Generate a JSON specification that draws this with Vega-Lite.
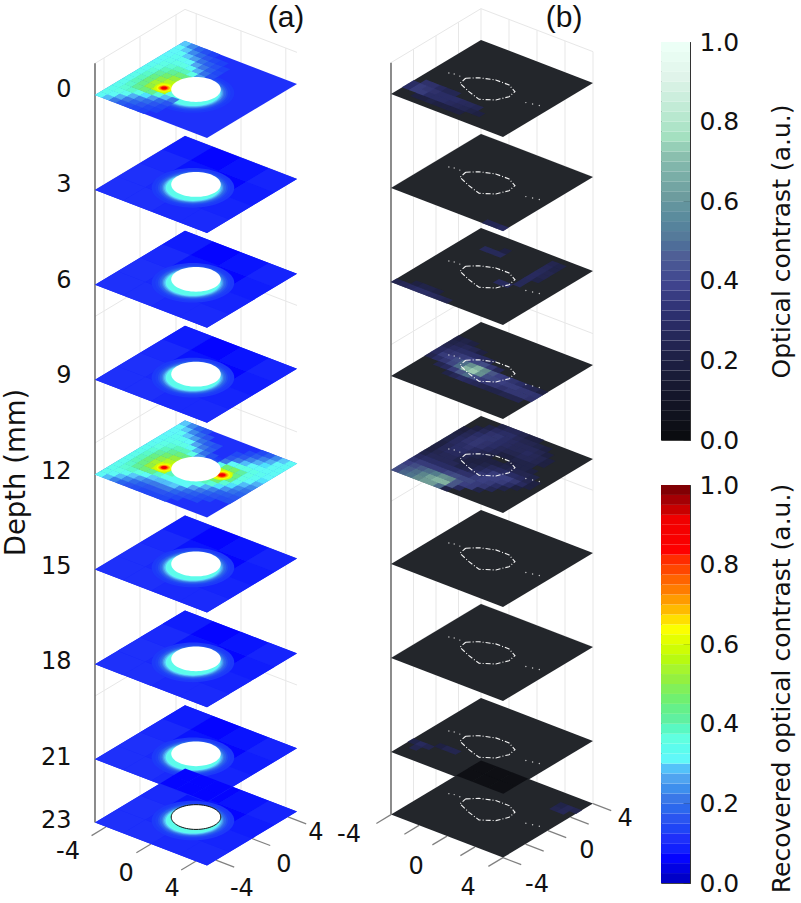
{"$schema":"https://vega.github.io/schema/vega-lite/v6.json","padding":{"left":2,"top":0,"right":0,"bottom":0},"background":"white","bounds":"flush","spacing":27,"resolve":{"scale":{"color":"independent"}},"config":{"font":"DejaVu Sans","view":{"stroke":null}},
"datasets":{"bar":[{"c":0},{"c":0.025},{"c":0.05},{"c":0.075},{"c":0.1},{"c":0.125},{"c":0.15},{"c":0.175},{"c":0.2},{"c":0.225},{"c":0.25},{"c":0.275},{"c":0.3},{"c":0.325},{"c":0.35},{"c":0.375},{"c":0.4},{"c":0.425},{"c":0.45},{"c":0.475},{"c":0.5},{"c":0.525},{"c":0.55},{"c":0.575},{"c":0.6},{"c":0.625},{"c":0.65},{"c":0.675},{"c":0.7},{"c":0.725},{"c":0.75},{"c":0.775},{"c":0.8},{"c":0.825},{"c":0.85},{"c":0.875},{"c":0.9},{"c":0.925},{"c":0.95},{"c":0.975}]},
"hconcat":[{"width":560,"height":903,
"data":{"values":[
{"k":"w","p":"a","i":"a-1","u":-4,"v":-4,"d":-1},{"k":"w","p":"a","i":"a-1","u":-4,"v":4,"d":-1},{"k":"w","p":"a","i":"a-1","u":4,"v":4,"d":-1},
{"k":"w","p":"a","i":"a3","u":-4,"v":-4,"d":3},{"k":"w","p":"a","i":"a3","u":-4,"v":4,"d":3},{"k":"w","p":"a","i":"a3","u":4,"v":4,"d":3},
{"k":"w","p":"a","i":"a7","u":-4,"v":-4,"d":7},{"k":"w","p":"a","i":"a7","u":-4,"v":4,"d":7},{"k":"w","p":"a","i":"a7","u":4,"v":4,"d":7},
{"k":"w","p":"a","i":"a11","u":-4,"v":-4,"d":11},{"k":"w","p":"a","i":"a11","u":-4,"v":4,"d":11},{"k":"w","p":"a","i":"a11","u":4,"v":4,"d":11},
{"k":"w","p":"a","i":"a15","u":-4,"v":-4,"d":15},{"k":"w","p":"a","i":"a15","u":-4,"v":4,"d":15},{"k":"w","p":"a","i":"a15","u":4,"v":4,"d":15},
{"k":"w","p":"a","i":"a19","u":-4,"v":-4,"d":19},{"k":"w","p":"a","i":"a19","u":-4,"v":4,"d":19},{"k":"w","p":"a","i":"a19","u":4,"v":4,"d":19},
{"k":"w","p":"b","i":"b-1","u":-4,"v":-4,"d":-1},{"k":"w","p":"b","i":"b-1","u":-4,"v":4,"d":-1},{"k":"w","p":"b","i":"b-1","u":4,"v":4,"d":-1},
{"k":"w","p":"b","i":"b3","u":-4,"v":-4,"d":3},{"k":"w","p":"b","i":"b3","u":-4,"v":4,"d":3},{"k":"w","p":"b","i":"b3","u":4,"v":4,"d":3},
{"k":"w","p":"b","i":"b8","u":-4,"v":-4,"d":8},{"k":"w","p":"b","i":"b8","u":-4,"v":4,"d":8},{"k":"w","p":"b","i":"b8","u":4,"v":4,"d":8},
{"k":"w","p":"b","i":"b13","u":-4,"v":-4,"d":13},{"k":"w","p":"b","i":"b13","u":-4,"v":4,"d":13},{"k":"w","p":"b","i":"b13","u":4,"v":4,"d":13},
{"k":"w","p":"b","i":"b18","u":-4,"v":-4,"d":18},{"k":"w","p":"b","i":"b18","u":-4,"v":4,"d":18},{"k":"w","p":"b","i":"b18","u":4,"v":4,"d":18},
{"k":"w","p":"a","i":"av1","u":-4,"v":-3.2,"d":-1},{"k":"w","p":"a","i":"av1","u":-4,"v":-3.2,"d":23},{"k":"w","p":"a","i":"av2","u":-4,"v":0,"d":-1},{"k":"w","p":"a","i":"av2","u":-4,"v":0,"d":23},{"k":"w","p":"a","i":"av3","u":-4,"v":3.2,"d":-1},{"k":"w","p":"a","i":"av3","u":-4,"v":3.2,"d":23},
{"k":"w","p":"a","i":"av4","u":-3.2,"v":4,"d":-1},{"k":"w","p":"a","i":"av4","u":-3.2,"v":4,"d":23},{"k":"w","p":"a","i":"av5","u":0,"v":4,"d":-1},{"k":"w","p":"a","i":"av5","u":0,"v":4,"d":23},{"k":"w","p":"a","i":"av6","u":3.2,"v":4,"d":-1},{"k":"w","p":"a","i":"av6","u":3.2,"v":4,"d":23},
{"k":"w","p":"b","i":"bv1","u":-4,"v":-2,"d":-1},{"k":"w","p":"b","i":"bv1","u":-4,"v":-2,"d":23},{"k":"w","p":"b","i":"bv2","u":-4,"v":0,"d":-1},{"k":"w","p":"b","i":"bv2","u":-4,"v":0,"d":23},{"k":"w","p":"b","i":"bv3","u":-4,"v":2,"d":-1},{"k":"w","p":"b","i":"bv3","u":-4,"v":2,"d":23},{"k":"w","p":"b","i":"bv4","u":-4,"v":4,"d":-1},{"k":"w","p":"b","i":"bv4","u":-4,"v":4,"d":23},
{"k":"w","p":"b","i":"bv5","u":-2,"v":4,"d":-1},{"k":"w","p":"b","i":"bv5","u":-2,"v":4,"d":23},{"k":"w","p":"b","i":"bv6","u":0,"v":4,"d":-1},{"k":"w","p":"b","i":"bv6","u":0,"v":4,"d":23},{"k":"w","p":"b","i":"bv7","u":2,"v":4,"d":-1},{"k":"w","p":"b","i":"bv7","u":2,"v":4,"d":23},{"k":"w","p":"b","i":"bv8","u":4,"v":4,"d":-1},{"k":"w","p":"b","i":"bv8","u":4,"v":4,"d":23},
{"k":"a","p":"a","i":"a","u":-4,"v":-4,"d":-1},{"k":"a","p":"a","i":"a","u":-4,"v":-4,"d":23},{"k":"a","p":"b","i":"b","u":-4,"v":-4,"d":-1},{"k":"a","p":"b","i":"b","u":-4,"v":-4,"d":23},
{"k":"t","p":"a","i":"t1","u":-3.2,"v":-4,"d":23},{"k":"t","p":"a","i":"t1","u":-3.2,"v":-5.3,"d":23},{"k":"t","p":"a","i":"t2","u":0,"v":-4,"d":23},{"k":"t","p":"a","i":"t2","u":0,"v":-5.3,"d":23},{"k":"t","p":"a","i":"t3","u":3.2,"v":-4,"d":23},{"k":"t","p":"a","i":"t3","u":3.2,"v":-5.3,"d":23},
{"k":"t","p":"a","i":"t4","u":4,"v":-3.2,"d":23},{"k":"t","p":"a","i":"t4","u":5.3,"v":-3.2,"d":23},{"k":"t","p":"a","i":"t5","u":4,"v":0,"d":23},{"k":"t","p":"a","i":"t5","u":5.3,"v":0,"d":23},{"k":"t","p":"a","i":"t6","u":4,"v":3.2,"d":23},{"k":"t","p":"a","i":"t6","u":5.3,"v":3.2,"d":23},
{"k":"t","p":"b","i":"t7","u":-4,"v":-4,"d":23},{"k":"t","p":"b","i":"t7","u":-4,"v":-5.3,"d":23},{"k":"t","p":"b","i":"t8","u":-2,"v":-4,"d":23},{"k":"t","p":"b","i":"t8","u":-2,"v":-5.3,"d":23},{"k":"t","p":"b","i":"t9","u":0,"v":-4,"d":23},{"k":"t","p":"b","i":"t9","u":0,"v":-5.3,"d":23},{"k":"t","p":"b","i":"t10","u":2,"v":-4,"d":23},{"k":"t","p":"b","i":"t10","u":2,"v":-5.3,"d":23},{"k":"t","p":"b","i":"t11","u":4,"v":-4,"d":23},{"k":"t","p":"b","i":"t11","u":4,"v":-5.3,"d":23},
{"k":"t","p":"b","i":"t12","u":4,"v":-4,"d":23},{"k":"t","p":"b","i":"t12","u":5.3,"v":-4,"d":23},{"k":"t","p":"b","i":"t13","u":4,"v":-2,"d":23},{"k":"t","p":"b","i":"t13","u":5.3,"v":-2,"d":23},{"k":"t","p":"b","i":"t14","u":4,"v":0,"d":23},{"k":"t","p":"b","i":"t14","u":5.3,"v":0,"d":23},{"k":"t","p":"b","i":"t15","u":4,"v":2,"d":23},{"k":"t","p":"b","i":"t15","u":5.3,"v":2,"d":23},{"k":"t","p":"b","i":"t16","u":4,"v":4,"d":23},{"k":"t","p":"b","i":"t16","u":5.3,"v":4,"d":23},
{"k":"b","d":0,"u":0,"v":0,"c":0.1,"l":8},{"k":"b","d":3,"u":0,"v":0,"c":0.08,"l":8},{"k":"b","d":6,"u":0,"v":0,"c":0.08,"l":8},{"k":"b","d":9,"u":0,"v":0,"c":0.08,"l":8},{"k":"b","d":12,"u":0,"v":0,"c":0.1,"l":8},{"k":"b","d":15,"u":0,"v":0,"c":0.08,"l":8},{"k":"b","d":18,"u":0,"v":0,"c":0.08,"l":8},{"k":"b","d":21,"u":0,"v":0,"c":0.08,"l":8},{"k":"b","d":23,"u":0,"v":0,"c":0.08,"l":8},
{"k":"B","p":"b","d":0,"u":0,"v":0,"l":8},{"k":"B","p":"b","d":3,"u":0,"v":0,"l":8},{"k":"B","p":"b","d":6,"u":0,"v":0,"l":8},{"k":"B","p":"b","d":9,"u":0,"v":0,"l":8},{"k":"B","p":"b","d":12,"u":0,"v":0,"l":8},{"k":"B","p":"b","d":15,"u":0,"v":0,"l":8},{"k":"B","p":"b","d":18,"u":0,"v":0,"l":8},{"k":"B","p":"b","d":21,"u":0,"v":0,"l":8},{"k":"B","p":"b","d":23,"u":0,"v":0,"l":8},
{"k":"g","u":-3,"v":-3,"c":0.1,"l":2},{"k":"g","u":-3,"v":-1,"c":0.1,"l":2},{"k":"g","u":-3,"v":1,"c":0.09,"l":2},{"k":"g","u":-3,"v":3,"c":0.07,"l":2},{"k":"g","u":-1,"v":-3,"c":0.1,"l":2},{"k":"g","u":-1,"v":-1,"c":0.09,"l":2},{"k":"g","u":-1,"v":1,"c":0.06,"l":2},{"k":"g","u":-1,"v":3,"c":0.05,"l":2},{"k":"g","u":1,"v":-3,"c":0.09,"l":2},{"k":"g","u":1,"v":-1,"c":0.08,"l":2},{"k":"g","u":1,"v":1,"c":0.05,"l":2},{"k":"g","u":1,"v":3,"c":0.06,"l":2},{"k":"g","u":3,"v":-3,"c":0.09,"l":2},{"k":"g","u":3,"v":-1,"c":0.08,"l":2},{"k":"g","u":3,"v":1,"c":0.07,"l":2},{"k":"g","u":3,"v":3,"c":0.08,"l":2},
{"k":"r","u":0.12,"v":-0.42,"r":2.3,"c":0.11},{"k":"r","u":0.12,"v":-0.42,"r":2.1,"c":0.12},{"k":"r","u":0.12,"v":-0.42,"r":1.95,"c":0.14},{"k":"r","u":0.12,"v":-0.42,"r":1.85,"c":0.17},{"k":"r","u":0.12,"v":-0.42,"r":1.75,"c":0.2},{"k":"r","u":0.12,"v":-0.42,"r":1.68,"c":0.24},{"k":"r","u":0.12,"v":-0.42,"r":1.6,"c":0.28},{"k":"r","u":0.12,"v":-0.42,"r":1.52,"c":0.3},{"k":"r","u":0.12,"v":-0.42,"r":1.45,"c":0.33},
{"k":"c","d":0,"u":-3.75,"v":-3.75,"c":0.31},{"k":"c","d":0,"u":-3.25,"v":-3.75,"c":0.27},{"k":"c","d":0,"u":-2.75,"v":-3.75,"c":0.2},{"k":"c","d":0,"u":-2.25,"v":-3.75,"c":0.16},{"k":"c","d":0,"u":-1.75,"v":-3.75,"c":0.14},{"k":"c","d":0,"u":-1.25,"v":-3.75,"c":0.13},{"k":"c","d":0,"u":-0.75,"v":-3.75,"c":0.12},
{"k":"c","d":0,"u":-3.75,"v":-3.25,"c":0.33},{"k":"c","d":0,"u":-3.25,"v":-3.25,"c":0.31},{"k":"c","d":0,"u":-2.75,"v":-3.25,"c":0.26},{"k":"c","d":0,"u":-2.25,"v":-3.25,"c":0.2},{"k":"c","d":0,"u":-1.75,"v":-3.25,"c":0.17},{"k":"c","d":0,"u":-1.25,"v":-3.25,"c":0.15},{"k":"c","d":0,"u":-0.75,"v":-3.25,"c":0.13},{"k":"c","d":0,"u":-0.25,"v":-3.25,"c":0.12},
{"k":"c","d":0,"u":-3.75,"v":-2.75,"c":0.33},{"k":"c","d":0,"u":-3.25,"v":-2.75,"c":0.34},{"k":"c","d":0,"u":-2.75,"v":-2.75,"c":0.32},{"k":"c","d":0,"u":-2.25,"v":-2.75,"c":0.26},{"k":"c","d":0,"u":-1.75,"v":-2.75,"c":0.21},{"k":"c","d":0,"u":-1.25,"v":-2.75,"c":0.18},{"k":"c","d":0,"u":-0.75,"v":-2.75,"c":0.15},{"k":"c","d":0,"u":-0.25,"v":-2.75,"c":0.13},
{"k":"c","d":0,"u":-3.75,"v":-2.25,"c":0.33},{"k":"c","d":0,"u":-3.25,"v":-2.25,"c":0.36},{"k":"c","d":0,"u":-2.75,"v":-2.25,"c":0.37},{"k":"c","d":0,"u":-2.25,"v":-2.25,"c":0.34},{"k":"c","d":0,"u":-1.75,"v":-2.25,"c":0.29},{"k":"c","d":0,"u":-1.25,"v":-2.25,"c":0.24},{"k":"c","d":0,"u":-0.75,"v":-2.25,"c":0.18},{"k":"c","d":0,"u":-0.25,"v":-2.25,"c":0.15},
{"k":"c","d":0,"u":-3.75,"v":-1.75,"c":0.33},{"k":"c","d":0,"u":-3.25,"v":-1.75,"c":0.37},{"k":"c","d":0,"u":-2.75,"v":-1.75,"c":0.41},{"k":"c","d":0,"u":-2.25,"v":-1.75,"c":0.44},{"k":"c","d":0,"u":-1.75,"v":-1.75,"c":0.42},{"k":"c","d":0,"u":-1.25,"v":-1.75,"c":0.36},{"k":"c","d":0,"u":-0.75,"v":-1.75,"c":0.27},{"k":"c","d":0,"u":-0.25,"v":-1.75,"c":0.2},
{"k":"c","d":0,"u":-3.75,"v":-1.25,"c":0.33},{"k":"c","d":0,"u":-3.25,"v":-1.25,"c":0.38},{"k":"c","d":0,"u":-2.75,"v":-1.25,"c":0.43},{"k":"c","d":0,"u":-2.25,"v":-1.25,"c":0.5},{"k":"c","d":0,"u":-1.75,"v":-1.25,"c":0.56},{"k":"c","d":0,"u":-1.25,"v":-1.25,"c":0.55},{"k":"c","d":0,"u":-0.75,"v":-1.25,"c":0.35},
{"k":"c","d":0,"u":-3.75,"v":-0.75,"c":0.33},{"k":"c","d":0,"u":-3.25,"v":-0.75,"c":0.38},{"k":"c","d":0,"u":-2.75,"v":-0.75,"c":0.44},{"k":"c","d":0,"u":-2.25,"v":-0.75,"c":0.52},{"k":"c","d":0,"u":-1.75,"v":-0.75,"c":0.58},{"k":"c","d":0,"u":-1.25,"v":-0.75,"c":0.58},{"k":"c","d":0,"u":-0.75,"v":-0.75,"c":0.45},
{"k":"c","d":0,"u":-3.75,"v":-0.25,"c":0.33},{"k":"c","d":0,"u":-3.25,"v":-0.25,"c":0.37},{"k":"c","d":0,"u":-2.75,"v":-0.25,"c":0.43},{"k":"c","d":0,"u":-2.25,"v":-0.25,"c":0.49},{"k":"c","d":0,"u":-1.75,"v":-0.25,"c":0.54},{"k":"c","d":0,"u":-1.25,"v":-0.25,"c":0.56},
{"k":"c","d":0,"u":-3.75,"v":0.25,"c":0.32},{"k":"c","d":0,"u":-3.25,"v":0.25,"c":0.36},{"k":"c","d":0,"u":-2.75,"v":0.25,"c":0.4},{"k":"c","d":0,"u":-2.25,"v":0.25,"c":0.45},{"k":"c","d":0,"u":-1.75,"v":0.25,"c":0.5},{"k":"c","d":0,"u":-1.25,"v":0.25,"c":0.52},
{"k":"c","d":0,"u":-3.75,"v":0.75,"c":0.32},{"k":"c","d":0,"u":-3.25,"v":0.75,"c":0.35},{"k":"c","d":0,"u":-2.75,"v":0.75,"c":0.38},{"k":"c","d":0,"u":-2.25,"v":0.75,"c":0.41},{"k":"c","d":0,"u":-1.75,"v":0.75,"c":0.44},{"k":"c","d":0,"u":-1.25,"v":0.75,"c":0.43},
{"k":"c","d":0,"u":-3.75,"v":1.25,"c":0.31},{"k":"c","d":0,"u":-3.25,"v":1.25,"c":0.34},{"k":"c","d":0,"u":-2.75,"v":1.25,"c":0.36},{"k":"c","d":0,"u":-2.25,"v":1.25,"c":0.38},{"k":"c","d":0,"u":-1.75,"v":1.25,"c":0.38},{"k":"c","d":0,"u":-1.25,"v":1.25,"c":0.34},{"k":"c","d":0,"u":-0.75,"v":1.25,"c":0.24},
{"k":"c","d":0,"u":-3.75,"v":1.75,"c":0.31},{"k":"c","d":0,"u":-3.25,"v":1.75,"c":0.33},{"k":"c","d":0,"u":-2.75,"v":1.75,"c":0.34},{"k":"c","d":0,"u":-2.25,"v":1.75,"c":0.34},{"k":"c","d":0,"u":-1.75,"v":1.75,"c":0.31},{"k":"c","d":0,"u":-1.25,"v":1.75,"c":0.26},{"k":"c","d":0,"u":-0.75,"v":1.75,"c":0.19},{"k":"c","d":0,"u":-0.25,"v":1.75,"c":0.14},
{"k":"c","d":0,"u":-3.75,"v":2.25,"c":0.3},{"k":"c","d":0,"u":-3.25,"v":2.25,"c":0.32},{"k":"c","d":0,"u":-2.75,"v":2.25,"c":0.32},{"k":"c","d":0,"u":-2.25,"v":2.25,"c":0.3},{"k":"c","d":0,"u":-1.75,"v":2.25,"c":0.25},{"k":"c","d":0,"u":-1.25,"v":2.25,"c":0.2},{"k":"c","d":0,"u":-0.75,"v":2.25,"c":0.16},{"k":"c","d":0,"u":-0.25,"v":2.25,"c":0.13},
{"k":"c","d":0,"u":-3.75,"v":2.75,"c":0.3},{"k":"c","d":0,"u":-3.25,"v":2.75,"c":0.31},{"k":"c","d":0,"u":-2.75,"v":2.75,"c":0.28},{"k":"c","d":0,"u":-2.25,"v":2.75,"c":0.24},{"k":"c","d":0,"u":-1.75,"v":2.75,"c":0.19},{"k":"c","d":0,"u":-1.25,"v":2.75,"c":0.16},{"k":"c","d":0,"u":-0.75,"v":2.75,"c":0.14},{"k":"c","d":0,"u":-0.25,"v":2.75,"c":0.12},
{"k":"c","d":0,"u":-3.75,"v":3.25,"c":0.3},{"k":"c","d":0,"u":-3.25,"v":3.25,"c":0.28},{"k":"c","d":0,"u":-2.75,"v":3.25,"c":0.22},{"k":"c","d":0,"u":-2.25,"v":3.25,"c":0.18},{"k":"c","d":0,"u":-1.75,"v":3.25,"c":0.15},{"k":"c","d":0,"u":-1.25,"v":3.25,"c":0.13},{"k":"c","d":0,"u":-0.75,"v":3.25,"c":0.12},
{"k":"c","d":0,"u":-3.75,"v":3.75,"c":0.28},{"k":"c","d":0,"u":-3.25,"v":3.75,"c":0.22},{"k":"c","d":0,"u":-2.75,"v":3.75,"c":0.17},{"k":"c","d":0,"u":-2.25,"v":3.75,"c":0.14},{"k":"c","d":0,"u":-1.75,"v":3.75,"c":0.12},
{"k":"c","d":12,"u":-3.75,"v":-3.75,"c":0.31},{"k":"c","d":12,"u":-3.25,"v":-3.75,"c":0.27},{"k":"c","d":12,"u":-2.75,"v":-3.75,"c":0.21},{"k":"c","d":12,"u":-2.25,"v":-3.75,"c":0.17},{"k":"c","d":12,"u":-1.75,"v":-3.75,"c":0.15},{"k":"c","d":12,"u":-1.25,"v":-3.75,"c":0.14},{"k":"c","d":12,"u":-0.75,"v":-3.75,"c":0.13},{"k":"c","d":12,"u":-0.25,"v":-3.75,"c":0.13},{"k":"c","d":12,"u":0.25,"v":-3.75,"c":0.13},{"k":"c","d":12,"u":0.75,"v":-3.75,"c":0.13},
{"k":"c","d":12,"u":-3.75,"v":-3.25,"c":0.33},{"k":"c","d":12,"u":-3.25,"v":-3.25,"c":0.31},{"k":"c","d":12,"u":-2.75,"v":-3.25,"c":0.27},{"k":"c","d":12,"u":-2.25,"v":-3.25,"c":0.22},{"k":"c","d":12,"u":-1.75,"v":-3.25,"c":0.18},{"k":"c","d":12,"u":-1.25,"v":-3.25,"c":0.16},{"k":"c","d":12,"u":-0.75,"v":-3.25,"c":0.15},{"k":"c","d":12,"u":-0.25,"v":-3.25,"c":0.15},{"k":"c","d":12,"u":0.25,"v":-3.25,"c":0.15},{"k":"c","d":12,"u":0.75,"v":-3.25,"c":0.14},{"k":"c","d":12,"u":1.25,"v":-3.25,"c":0.13},
{"k":"c","d":12,"u":-3.75,"v":-2.75,"c":0.33},{"k":"c","d":12,"u":-3.25,"v":-2.75,"c":0.34},{"k":"c","d":12,"u":-2.75,"v":-2.75,"c":0.32},{"k":"c","d":12,"u":-2.25,"v":-2.75,"c":0.28},{"k":"c","d":12,"u":-1.75,"v":-2.75,"c":0.24},{"k":"c","d":12,"u":-1.25,"v":-2.75,"c":0.21},{"k":"c","d":12,"u":-0.75,"v":-2.75,"c":0.2},{"k":"c","d":12,"u":-0.25,"v":-2.75,"c":0.2},{"k":"c","d":12,"u":0.25,"v":-2.75,"c":0.2},{"k":"c","d":12,"u":0.75,"v":-2.75,"c":0.17},{"k":"c","d":12,"u":1.25,"v":-2.75,"c":0.15},{"k":"c","d":12,"u":1.75,"v":-2.75,"c":0.14},{"k":"c","d":12,"u":2.25,"v":-2.75,"c":0.13},
{"k":"c","d":12,"u":-3.75,"v":-2.25,"c":0.33},{"k":"c","d":12,"u":-3.25,"v":-2.25,"c":0.36},{"k":"c","d":12,"u":-2.75,"v":-2.25,"c":0.37},{"k":"c","d":12,"u":-2.25,"v":-2.25,"c":0.35},{"k":"c","d":12,"u":-1.75,"v":-2.25,"c":0.31},{"k":"c","d":12,"u":-1.25,"v":-2.25,"c":0.28},{"k":"c","d":12,"u":-0.75,"v":-2.25,"c":0.27},{"k":"c","d":12,"u":-0.25,"v":-2.25,"c":0.27},{"k":"c","d":12,"u":0.25,"v":-2.25,"c":0.28},{"k":"c","d":12,"u":0.75,"v":-2.25,"c":0.22},{"k":"c","d":12,"u":1.25,"v":-2.25,"c":0.18},{"k":"c","d":12,"u":1.75,"v":-2.25,"c":0.16},{"k":"c","d":12,"u":2.25,"v":-2.25,"c":0.14},{"k":"c","d":12,"u":2.75,"v":-2.25,"c":0.13},
{"k":"c","d":12,"u":-3.75,"v":-1.75,"c":0.33},{"k":"c","d":12,"u":-3.25,"v":-1.75,"c":0.37},{"k":"c","d":12,"u":-2.75,"v":-1.75,"c":0.41},{"k":"c","d":12,"u":-2.25,"v":-1.75,"c":0.44},{"k":"c","d":12,"u":-1.75,"v":-1.75,"c":0.42},{"k":"c","d":12,"u":-1.25,"v":-1.75,"c":0.37},{"k":"c","d":12,"u":-0.75,"v":-1.75,"c":0.33},{"k":"c","d":12,"u":-0.25,"v":-1.75,"c":0.31},{"k":"c","d":12,"u":0.25,"v":-1.75,"c":0.31},{"k":"c","d":12,"u":0.75,"v":-1.75,"c":0.3},{"k":"c","d":12,"u":1.25,"v":-1.75,"c":0.25},{"k":"c","d":12,"u":1.75,"v":-1.75,"c":0.2},{"k":"c","d":12,"u":2.25,"v":-1.75,"c":0.17},{"k":"c","d":12,"u":2.75,"v":-1.75,"c":0.15},{"k":"c","d":12,"u":3.25,"v":-1.75,"c":0.14},{"k":"c","d":12,"u":3.75,"v":-1.75,"c":0.14},
{"k":"c","d":12,"u":-3.75,"v":-1.25,"c":0.33},{"k":"c","d":12,"u":-3.25,"v":-1.25,"c":0.38},{"k":"c","d":12,"u":-2.75,"v":-1.25,"c":0.43},{"k":"c","d":12,"u":-2.25,"v":-1.25,"c":0.5},{"k":"c","d":12,"u":-1.75,"v":-1.25,"c":0.56},{"k":"c","d":12,"u":-1.25,"v":-1.25,"c":0.55},{"k":"c","d":12,"u":-0.75,"v":-1.25,"c":0.38},{"k":"c","d":12,"u":0.75,"v":-1.25,"c":0.33},{"k":"c","d":12,"u":1.25,"v":-1.25,"c":0.32},{"k":"c","d":12,"u":1.75,"v":-1.25,"c":0.26},{"k":"c","d":12,"u":2.25,"v":-1.25,"c":0.21},{"k":"c","d":12,"u":2.75,"v":-1.25,"c":0.17},{"k":"c","d":12,"u":3.25,"v":-1.25,"c":0.16},{"k":"c","d":12,"u":3.75,"v":-1.25,"c":0.15},
{"k":"c","d":12,"u":-3.75,"v":-0.75,"c":0.33},{"k":"c","d":12,"u":-3.25,"v":-0.75,"c":0.38},{"k":"c","d":12,"u":-2.75,"v":-0.75,"c":0.44},{"k":"c","d":12,"u":-2.25,"v":-0.75,"c":0.52},{"k":"c","d":12,"u":-1.75,"v":-0.75,"c":0.58},{"k":"c","d":12,"u":-1.25,"v":-0.75,"c":0.58},{"k":"c","d":12,"u":1.25,"v":-0.75,"c":0.38},{"k":"c","d":12,"u":1.75,"v":-0.75,"c":0.36},{"k":"c","d":12,"u":2.25,"v":-0.75,"c":0.29},{"k":"c","d":12,"u":2.75,"v":-0.75,"c":0.23},{"k":"c","d":12,"u":3.25,"v":-0.75,"c":0.19},{"k":"c","d":12,"u":3.75,"v":-0.75,"c":0.17},
{"k":"c","d":12,"u":-3.75,"v":-0.25,"c":0.33},{"k":"c","d":12,"u":-3.25,"v":-0.25,"c":0.37},{"k":"c","d":12,"u":-2.75,"v":-0.25,"c":0.43},{"k":"c","d":12,"u":-2.25,"v":-0.25,"c":0.49},{"k":"c","d":12,"u":-1.75,"v":-0.25,"c":0.54},{"k":"c","d":12,"u":-1.25,"v":-0.25,"c":0.56},{"k":"c","d":12,"u":1.25,"v":-0.25,"c":0.46},{"k":"c","d":12,"u":1.75,"v":-0.25,"c":0.45},{"k":"c","d":12,"u":2.25,"v":-0.25,"c":0.36},{"k":"c","d":12,"u":2.75,"v":-0.25,"c":0.29},{"k":"c","d":12,"u":3.25,"v":-0.25,"c":0.22},{"k":"c","d":12,"u":3.75,"v":-0.25,"c":0.19},
{"k":"c","d":12,"u":-3.75,"v":0.25,"c":0.32},{"k":"c","d":12,"u":-3.25,"v":0.25,"c":0.36},{"k":"c","d":12,"u":-2.75,"v":0.25,"c":0.4},{"k":"c","d":12,"u":-2.25,"v":0.25,"c":0.45},{"k":"c","d":12,"u":-1.75,"v":0.25,"c":0.5},{"k":"c","d":12,"u":-1.25,"v":0.25,"c":0.52},{"k":"c","d":12,"u":1.25,"v":0.25,"c":0.56},{"k":"c","d":12,"u":1.75,"v":0.25,"c":0.55},{"k":"c","d":12,"u":2.25,"v":0.25,"c":0.43},{"k":"c","d":12,"u":2.75,"v":0.25,"c":0.33},{"k":"c","d":12,"u":3.25,"v":0.25,"c":0.27},{"k":"c","d":12,"u":3.75,"v":0.25,"c":0.22},
{"k":"c","d":12,"u":-3.75,"v":0.75,"c":0.32},{"k":"c","d":12,"u":-3.25,"v":0.75,"c":0.35},{"k":"c","d":12,"u":-2.75,"v":0.75,"c":0.38},{"k":"c","d":12,"u":-2.25,"v":0.75,"c":0.41},{"k":"c","d":12,"u":-1.75,"v":0.75,"c":0.44},{"k":"c","d":12,"u":-1.25,"v":0.75,"c":0.43},{"k":"c","d":12,"u":1.25,"v":0.75,"c":0.55},{"k":"c","d":12,"u":1.75,"v":0.75,"c":0.52},{"k":"c","d":12,"u":2.25,"v":0.75,"c":0.43},{"k":"c","d":12,"u":2.75,"v":0.75,"c":0.35},{"k":"c","d":12,"u":3.25,"v":0.75,"c":0.3},{"k":"c","d":12,"u":3.75,"v":0.75,"c":0.26},
{"k":"c","d":12,"u":-3.75,"v":1.25,"c":0.31},{"k":"c","d":12,"u":-3.25,"v":1.25,"c":0.34},{"k":"c","d":12,"u":-2.75,"v":1.25,"c":0.36},{"k":"c","d":12,"u":-2.25,"v":1.25,"c":0.38},{"k":"c","d":12,"u":-1.75,"v":1.25,"c":0.38},{"k":"c","d":12,"u":-1.25,"v":1.25,"c":0.34},{"k":"c","d":12,"u":-0.75,"v":1.25,"c":0.24},{"k":"c","d":12,"u":0.75,"v":1.25,"c":0.32},{"k":"c","d":12,"u":1.25,"v":1.25,"c":0.44},{"k":"c","d":12,"u":1.75,"v":1.25,"c":0.46},{"k":"c","d":12,"u":2.25,"v":1.25,"c":0.4},{"k":"c","d":12,"u":2.75,"v":1.25,"c":0.35},{"k":"c","d":12,"u":3.25,"v":1.25,"c":0.32},{"k":"c","d":12,"u":3.75,"v":1.25,"c":0.29},
{"k":"c","d":12,"u":-3.75,"v":1.75,"c":0.31},{"k":"c","d":12,"u":-3.25,"v":1.75,"c":0.33},{"k":"c","d":12,"u":-2.75,"v":1.75,"c":0.34},{"k":"c","d":12,"u":-2.25,"v":1.75,"c":0.34},{"k":"c","d":12,"u":-1.75,"v":1.75,"c":0.31},{"k":"c","d":12,"u":-1.25,"v":1.75,"c":0.26},{"k":"c","d":12,"u":-0.75,"v":1.75,"c":0.19},{"k":"c","d":12,"u":-0.25,"v":1.75,"c":0.14},{"k":"c","d":12,"u":0.75,"v":1.75,"c":0.2},{"k":"c","d":12,"u":1.25,"v":1.75,"c":0.3},{"k":"c","d":12,"u":1.75,"v":1.75,"c":0.35},{"k":"c","d":12,"u":2.25,"v":1.75,"c":0.35},{"k":"c","d":12,"u":2.75,"v":1.75,"c":0.34},{"k":"c","d":12,"u":3.25,"v":1.75,"c":0.32},{"k":"c","d":12,"u":3.75,"v":1.75,"c":0.3},
{"k":"c","d":12,"u":-3.75,"v":2.25,"c":0.3},{"k":"c","d":12,"u":-3.25,"v":2.25,"c":0.32},{"k":"c","d":12,"u":-2.75,"v":2.25,"c":0.32},{"k":"c","d":12,"u":-2.25,"v":2.25,"c":0.3},{"k":"c","d":12,"u":-1.75,"v":2.25,"c":0.25},{"k":"c","d":12,"u":-1.25,"v":2.25,"c":0.2},{"k":"c","d":12,"u":-0.75,"v":2.25,"c":0.16},{"k":"c","d":12,"u":0.75,"v":2.25,"c":0.15},{"k":"c","d":12,"u":1.25,"v":2.25,"c":0.2},{"k":"c","d":12,"u":1.75,"v":2.25,"c":0.27},{"k":"c","d":12,"u":2.25,"v":2.25,"c":0.3},{"k":"c","d":12,"u":2.75,"v":2.25,"c":0.31},{"k":"c","d":12,"u":3.25,"v":2.25,"c":0.31},{"k":"c","d":12,"u":3.75,"v":2.25,"c":0.31},
{"k":"c","d":12,"u":-3.75,"v":2.75,"c":0.3},{"k":"c","d":12,"u":-3.25,"v":2.75,"c":0.31},{"k":"c","d":12,"u":-2.75,"v":2.75,"c":0.28},{"k":"c","d":12,"u":-2.25,"v":2.75,"c":0.24},{"k":"c","d":12,"u":-1.75,"v":2.75,"c":0.19},{"k":"c","d":12,"u":-1.25,"v":2.75,"c":0.16},{"k":"c","d":12,"u":-0.75,"v":2.75,"c":0.14},{"k":"c","d":12,"u":0.75,"v":2.75,"c":0.13},{"k":"c","d":12,"u":1.25,"v":2.75,"c":0.15},{"k":"c","d":12,"u":1.75,"v":2.75,"c":0.21},{"k":"c","d":12,"u":2.25,"v":2.75,"c":0.26},{"k":"c","d":12,"u":2.75,"v":2.75,"c":0.29},{"k":"c","d":12,"u":3.25,"v":2.75,"c":0.31},{"k":"c","d":12,"u":3.75,"v":2.75,"c":0.31},
{"k":"c","d":12,"u":-3.75,"v":3.25,"c":0.3},{"k":"c","d":12,"u":-3.25,"v":3.25,"c":0.28},{"k":"c","d":12,"u":-2.75,"v":3.25,"c":0.22},{"k":"c","d":12,"u":-2.25,"v":3.25,"c":0.18},{"k":"c","d":12,"u":-1.75,"v":3.25,"c":0.15},{"k":"c","d":12,"u":1.25,"v":3.25,"c":0.13},{"k":"c","d":12,"u":1.75,"v":3.25,"c":0.16},{"k":"c","d":12,"u":2.25,"v":3.25,"c":0.21},{"k":"c","d":12,"u":2.75,"v":3.25,"c":0.26},{"k":"c","d":12,"u":3.25,"v":3.25,"c":0.3},{"k":"c","d":12,"u":3.75,"v":3.25,"c":0.31},
{"k":"c","d":12,"u":-3.75,"v":3.75,"c":0.28},{"k":"c","d":12,"u":-3.25,"v":3.75,"c":0.22},{"k":"c","d":12,"u":-2.75,"v":3.75,"c":0.17},{"k":"c","d":12,"u":-2.25,"v":3.75,"c":0.14},{"k":"c","d":12,"u":1.75,"v":3.75,"c":0.13},{"k":"c","d":12,"u":2.25,"v":3.75,"c":0.16},{"k":"c","d":12,"u":2.75,"v":3.75,"c":0.22},{"k":"c","d":12,"u":3.25,"v":3.75,"c":0.28},{"k":"c","d":12,"u":3.75,"v":3.75,"c":0.31},
{"k":"h","d":0,"u":-1.5,"v":-0.97,"r":0.55,"c":0.58},{"k":"h","d":0,"u":-1.5,"v":-0.97,"r":0.42,"c":0.62},{"k":"h","d":0,"u":-1.5,"v":-0.97,"r":0.33,"c":0.68},{"k":"h","d":0,"u":-1.5,"v":-0.97,"r":0.25,"c":0.75},{"k":"h","d":0,"u":-1.5,"v":-0.97,"r":0.18,"c":0.82},{"k":"h","d":0,"u":-1.5,"v":-0.97,"r":0.12,"c":0.9},
{"k":"h","d":12,"u":-1.5,"v":-0.97,"r":0.55,"c":0.58},{"k":"h","d":12,"u":-1.5,"v":-0.97,"r":0.42,"c":0.62},{"k":"h","d":12,"u":-1.5,"v":-0.97,"r":0.33,"c":0.68},{"k":"h","d":12,"u":-1.5,"v":-0.97,"r":0.25,"c":0.75},{"k":"h","d":12,"u":-1.5,"v":-0.97,"r":0.18,"c":0.82},{"k":"h","d":12,"u":-1.5,"v":-0.97,"r":0.12,"c":0.9},
{"k":"h","d":12,"u":1.57,"v":0.36,"r":0.6,"c":0.58},{"k":"h","d":12,"u":1.57,"v":0.36,"r":0.46,"c":0.62},{"k":"h","d":12,"u":1.57,"v":0.36,"r":0.36,"c":0.68},{"k":"h","d":12,"u":1.57,"v":0.36,"r":0.27,"c":0.75},{"k":"h","d":12,"u":1.57,"v":0.36,"r":0.2,"c":0.82},{"k":"h","d":12,"u":1.57,"v":0.36,"r":0.13,"c":0.9},
{"k":"x","u":0,"v":0,"r":1.38,"c":0},
{"k":"c","d":23,"u":-3.44,"v":2.35,"c":0.05,"l":1.13},{"k":"c","d":23,"u":-2.31,"v":2.35,"c":0.05,"l":1.13},{"k":"c","d":23,"u":-1.19,"v":2.35,"c":0.05,"l":1.13},{"k":"c","d":23,"u":-3.44,"v":3.45,"c":0.05,"l":1.13},{"k":"c","d":23,"u":-2.31,"v":3.45,"c":0.05,"l":1.13},{"k":"c","d":23,"u":-1.19,"v":3.45,"c":0.05,"l":1.13},
{"k":"q","d":0,"u":-2.75,"v":-3.25,"c":0.2},{"k":"q","d":0,"u":-2.25,"v":-3.25,"c":0.2},{"k":"q","d":0,"u":-1.75,"v":-3.25,"c":0.22},{"k":"q","d":0,"u":-1.25,"v":-3.25,"c":0.2},{"k":"q","d":0,"u":-0.75,"v":-3.25,"c":0.2},{"k":"q","d":0,"u":-0.25,"v":-3.25,"c":0.2},{"k":"q","d":0,"u":0.25,"v":-3.25,"c":0.2},
{"k":"q","d":0,"u":-3.75,"v":-2.75,"c":0.3},{"k":"q","d":0,"u":-3.25,"v":-2.75,"c":0.36},{"k":"q","d":0,"u":-2.75,"v":-2.75,"c":0.36},{"k":"q","d":0,"u":-2.25,"v":-2.75,"c":0.3},{"k":"q","d":0,"u":-1.75,"v":-2.75,"c":0.3},{"k":"q","d":0,"u":-1.25,"v":-2.75,"c":0.3},{"k":"q","d":0,"u":-0.75,"v":-2.75,"c":0.28},{"k":"q","d":0,"u":-0.25,"v":-2.75,"c":0.26},{"k":"q","d":0,"u":0.25,"v":-2.75,"c":0.25},{"k":"q","d":0,"u":0.75,"v":-2.75,"c":0.22},{"k":"q","d":0,"u":1.25,"v":-2.75,"c":0.2},
{"k":"q","d":0,"u":-3.75,"v":-2.25,"c":0.3},{"k":"q","d":0,"u":-3.25,"v":-2.25,"c":0.36},{"k":"q","d":0,"u":-2.75,"v":-2.25,"c":0.34},{"k":"q","d":0,"u":-2.25,"v":-2.25,"c":0.32},{"k":"q","d":0,"u":-1.75,"v":-2.25,"c":0.3},{"k":"q","d":0,"u":-1.25,"v":-2.25,"c":0.3},{"k":"q","d":0,"u":-0.75,"v":-2.25,"c":0.3},{"k":"q","d":0,"u":-0.25,"v":-2.25,"c":0.28},{"k":"q","d":0,"u":0.25,"v":-2.25,"c":0.27},{"k":"q","d":0,"u":0.75,"v":-2.25,"c":0.25},
{"k":"q","d":0,"u":-3.25,"v":-1.75,"c":0.32},{"k":"q","d":0,"u":-2.75,"v":-1.75,"c":0.32},{"k":"q","d":0,"u":-2.25,"v":-1.75,"c":0.28},{"k":"q","d":0,"u":-1.75,"v":-1.75,"c":0.25},{"k":"q","d":0,"u":-1.25,"v":-1.75,"c":0.25},
{"k":"q","d":3,"u":2.75,"v":-3.75,"c":0.25},{"k":"q","d":3,"u":3.25,"v":-3.75,"c":0.25},{"k":"q","d":3,"u":3.75,"v":-3.75,"c":0.28},
{"k":"q","d":6,"u":-3.75,"v":-3.75,"c":0.24},{"k":"q","d":6,"u":-3.25,"v":-3.75,"c":0.26},{"k":"q","d":6,"u":-2.75,"v":-3.75,"c":0.28},{"k":"q","d":6,"u":-2.25,"v":-3.75,"c":0.3},{"k":"q","d":6,"u":-1.75,"v":-3.75,"c":0.3},{"k":"q","d":6,"u":-1.25,"v":-3.75,"c":0.28},{"k":"q","d":6,"u":-0.75,"v":-3.75,"c":0.26},{"k":"q","d":6,"u":-0.25,"v":-3.75,"c":0.24},{"k":"q","d":6,"u":-2.75,"v":-3.25,"c":0.2},{"k":"q","d":6,"u":-2.25,"v":-3.25,"c":0.22},{"k":"q","d":6,"u":-1.75,"v":-3.25,"c":0.22},{"k":"q","d":6,"u":-1.25,"v":-3.25,"c":0.2},
{"k":"q","d":6,"u":1.75,"v":0.25,"c":0.27},{"k":"q","d":6,"u":1.75,"v":0.75,"c":0.27},{"k":"q","d":6,"u":1.75,"v":1.25,"c":0.28},{"k":"q","d":6,"u":1.75,"v":1.75,"c":0.28},{"k":"q","d":6,"u":1.75,"v":2.25,"c":0.27},{"k":"q","d":6,"u":1.75,"v":2.75,"c":0.26},{"k":"q","d":6,"u":1.75,"v":3.25,"c":0.24},{"k":"q","d":6,"u":2.25,"v":1.25,"c":0.22},{"k":"q","d":6,"u":2.25,"v":1.75,"c":0.24},{"k":"q","d":6,"u":2.25,"v":2.25,"c":0.24},{"k":"q","d":6,"u":2.25,"v":2.75,"c":0.22},{"k":"q","d":6,"u":2.25,"v":3.25,"c":0.22},
{"k":"q","d":6,"u":-1.75,"v":2.25,"c":0.27},{"k":"q","d":6,"u":-1.25,"v":2.25,"c":0.27},{"k":"q","d":6,"u":-2.25,"v":2.25,"c":0.27},{"k":"q","d":6,"u":-1.25,"v":2.75,"c":0.2},{"k":"q","d":6,"u":0.75,"v":-0.25,"c":0.28},{"k":"q","d":6,"u":1.25,"v":-0.25,"c":0.28},
{"k":"q","d":9,"u":-3.75,"v":-0.25,"c":0.28},{"k":"q","d":9,"u":-3.25,"v":-0.25,"c":0.36},{"k":"q","d":9,"u":-2.75,"v":-0.25,"c":0.38},{"k":"q","d":9,"u":-2.25,"v":-0.25,"c":0.42},{"k":"q","d":9,"u":-1.75,"v":-0.25,"c":0.5},{"k":"q","d":9,"u":-1.25,"v":-0.25,"c":0.62},{"k":"q","d":9,"u":-0.75,"v":-0.25,"c":0.72},{"k":"q","d":9,"u":-0.25,"v":-0.25,"c":0.6},{"k":"q","d":9,"u":0.25,"v":-0.25,"c":0.45},{"k":"q","d":9,"u":0.75,"v":-0.25,"c":0.38},{"k":"q","d":9,"u":1.25,"v":-0.25,"c":0.36},{"k":"q","d":9,"u":1.75,"v":-0.25,"c":0.33},{"k":"q","d":9,"u":2.25,"v":-0.25,"c":0.3},{"k":"q","d":9,"u":2.75,"v":-0.25,"c":0.26},{"k":"q","d":9,"u":3.25,"v":-0.25,"c":0.24},{"k":"q","d":9,"u":3.75,"v":-0.25,"c":0.2},
{"k":"q","d":9,"u":-3.75,"v":-0.75,"c":0.24},{"k":"q","d":9,"u":-3.25,"v":-0.75,"c":0.3},{"k":"q","d":9,"u":-2.75,"v":-0.75,"c":0.34},{"k":"q","d":9,"u":-2.25,"v":-0.75,"c":0.4},{"k":"q","d":9,"u":-1.75,"v":-0.75,"c":0.5},{"k":"q","d":9,"u":-1.25,"v":-0.75,"c":0.72},{"k":"q","d":9,"u":-0.75,"v":-0.75,"c":0.78},{"k":"q","d":9,"u":-0.25,"v":-0.75,"c":0.62},{"k":"q","d":9,"u":0.25,"v":-0.75,"c":0.42},{"k":"q","d":9,"u":0.75,"v":-0.75,"c":0.4},{"k":"q","d":9,"u":1.25,"v":-0.75,"c":0.38},{"k":"q","d":9,"u":1.75,"v":-0.75,"c":0.36},{"k":"q","d":9,"u":2.25,"v":-0.75,"c":0.36},{"k":"q","d":9,"u":2.75,"v":-0.75,"c":0.34},{"k":"q","d":9,"u":3.25,"v":-0.75,"c":0.34},{"k":"q","d":9,"u":3.75,"v":-0.75,"c":0.33},
{"k":"q","d":9,"u":-2.75,"v":-1.25,"c":0.24},{"k":"q","d":9,"u":-2.25,"v":-1.25,"c":0.28},{"k":"q","d":9,"u":-1.75,"v":-1.25,"c":0.36},{"k":"q","d":9,"u":-1.25,"v":-1.25,"c":0.45},{"k":"q","d":9,"u":-0.75,"v":-1.25,"c":0.5},{"k":"q","d":9,"u":-0.25,"v":-1.25,"c":0.42},{"k":"q","d":9,"u":0.25,"v":-1.25,"c":0.36},{"k":"q","d":9,"u":0.75,"v":-1.25,"c":0.34},{"k":"q","d":9,"u":1.25,"v":-1.25,"c":0.34},{"k":"q","d":9,"u":1.75,"v":-1.25,"c":0.32},{"k":"q","d":9,"u":2.25,"v":-1.25,"c":0.34},{"k":"q","d":9,"u":2.75,"v":-1.25,"c":0.34},{"k":"q","d":9,"u":3.25,"v":-1.25,"c":0.34},{"k":"q","d":9,"u":3.75,"v":-1.25,"c":0.32},
{"k":"q","d":9,"u":-1.75,"v":-1.75,"c":0.22},{"k":"q","d":9,"u":-1.25,"v":-1.75,"c":0.26},{"k":"q","d":9,"u":-0.75,"v":-1.75,"c":0.3},{"k":"q","d":9,"u":-0.25,"v":-1.75,"c":0.28},{"k":"q","d":9,"u":0.25,"v":-1.75,"c":0.26},{"k":"q","d":9,"u":0.75,"v":-1.75,"c":0.24},{"k":"q","d":9,"u":1.25,"v":-1.75,"c":0.22},{"k":"q","d":9,"u":1.75,"v":-1.75,"c":0.22},{"k":"q","d":9,"u":2.25,"v":-1.75,"c":0.24},{"k":"q","d":9,"u":2.75,"v":-1.75,"c":0.24},{"k":"q","d":9,"u":3.25,"v":-1.75,"c":0.24},
{"k":"q","d":9,"u":-3.75,"v":0.25,"c":0.28},{"k":"q","d":9,"u":-3.25,"v":0.25,"c":0.32},{"k":"q","d":9,"u":-2.75,"v":0.25,"c":0.34},{"k":"q","d":9,"u":-2.25,"v":0.25,"c":0.36},{"k":"q","d":9,"u":-1.75,"v":0.25,"c":0.38},{"k":"q","d":9,"u":-1.25,"v":0.25,"c":0.4},{"k":"q","d":9,"u":-0.75,"v":0.25,"c":0.42},{"k":"q","d":9,"u":-0.25,"v":0.25,"c":0.34},{"k":"q","d":9,"u":0.25,"v":0.25,"c":0.26},
{"k":"q","d":9,"u":-3.75,"v":0.75,"c":0.24},{"k":"q","d":9,"u":-3.25,"v":0.75,"c":0.28},{"k":"q","d":9,"u":-2.75,"v":0.75,"c":0.3},{"k":"q","d":9,"u":-2.25,"v":0.75,"c":0.3},{"k":"q","d":9,"u":-1.75,"v":0.75,"c":0.3},{"k":"q","d":9,"u":-1.25,"v":0.75,"c":0.28},{"k":"q","d":9,"u":-0.75,"v":0.75,"c":0.26},
{"k":"q","d":9,"u":-3.75,"v":1.25,"c":0.22},{"k":"q","d":9,"u":-3.25,"v":1.25,"c":0.24},{"k":"q","d":9,"u":-2.75,"v":1.25,"c":0.26},{"k":"q","d":9,"u":-2.25,"v":1.25,"c":0.24},{"k":"q","d":9,"u":-1.75,"v":1.25,"c":0.2},{"k":"q","d":9,"u":-3.75,"v":1.75,"c":0.2},{"k":"q","d":9,"u":-3.25,"v":1.75,"c":0.22},{"k":"q","d":9,"u":-2.75,"v":1.75,"c":0.2},
{"k":"q","d":12,"u":-3.75,"v":-3.75,"c":0.42},{"k":"q","d":12,"u":-3.25,"v":-3.75,"c":0.48},{"k":"q","d":12,"u":-2.75,"v":-3.75,"c":0.52},{"k":"q","d":12,"u":-2.25,"v":-3.75,"c":0.6},{"k":"q","d":12,"u":-1.75,"v":-3.75,"c":0.66},{"k":"q","d":12,"u":-1.25,"v":-3.75,"c":0.66},{"k":"q","d":12,"u":-0.75,"v":-3.75,"c":0.5},{"k":"q","d":12,"u":-0.25,"v":-3.75,"c":0.22},
{"k":"q","d":12,"u":-3.75,"v":-3.25,"c":0.42},{"k":"q","d":12,"u":-3.25,"v":-3.25,"c":0.46},{"k":"q","d":12,"u":-2.75,"v":-3.25,"c":0.5},{"k":"q","d":12,"u":-2.25,"v":-3.25,"c":0.58},{"k":"q","d":12,"u":-1.75,"v":-3.25,"c":0.68},{"k":"q","d":12,"u":-1.25,"v":-3.25,"c":0.72},{"k":"q","d":12,"u":-0.75,"v":-3.25,"c":0.72},{"k":"q","d":12,"u":-0.25,"v":-3.25,"c":0.45},{"k":"q","d":12,"u":0.25,"v":-3.25,"c":0.28},
{"k":"q","d":12,"u":-3.75,"v":-2.75,"c":0.38},{"k":"q","d":12,"u":-3.25,"v":-2.75,"c":0.42},{"k":"q","d":12,"u":-2.75,"v":-2.75,"c":0.46},{"k":"q","d":12,"u":-2.25,"v":-2.75,"c":0.5},{"k":"q","d":12,"u":-1.75,"v":-2.75,"c":0.55},{"k":"q","d":12,"u":-1.25,"v":-2.75,"c":0.62},{"k":"q","d":12,"u":-0.75,"v":-2.75,"c":0.6},{"k":"q","d":12,"u":-0.25,"v":-2.75,"c":0.45},{"k":"q","d":12,"u":0.25,"v":-2.75,"c":0.38},{"k":"q","d":12,"u":0.75,"v":-2.75,"c":0.36},{"k":"q","d":12,"u":1.25,"v":-2.75,"c":0.22},
{"k":"q","d":12,"u":-3.75,"v":-2.25,"c":0.33},{"k":"q","d":12,"u":-3.25,"v":-2.25,"c":0.36},{"k":"q","d":12,"u":-2.75,"v":-2.25,"c":0.36},{"k":"q","d":12,"u":-2.25,"v":-2.25,"c":0.36},{"k":"q","d":12,"u":-1.75,"v":-2.25,"c":0.36},{"k":"q","d":12,"u":-1.25,"v":-2.25,"c":0.4},{"k":"q","d":12,"u":-0.75,"v":-2.25,"c":0.42},{"k":"q","d":12,"u":-0.25,"v":-2.25,"c":0.4},{"k":"q","d":12,"u":0.25,"v":-2.25,"c":0.4},{"k":"q","d":12,"u":0.75,"v":-2.25,"c":0.36},{"k":"q","d":12,"u":1.25,"v":-2.25,"c":0.34},{"k":"q","d":12,"u":1.75,"v":-2.25,"c":0.25},
{"k":"q","d":12,"u":-3.75,"v":-1.75,"c":0.28},{"k":"q","d":12,"u":-3.25,"v":-1.75,"c":0.3},{"k":"q","d":12,"u":-2.75,"v":-1.75,"c":0.3},{"k":"q","d":12,"u":-2.25,"v":-1.75,"c":0.3},{"k":"q","d":12,"u":-1.75,"v":-1.75,"c":0.3},{"k":"q","d":12,"u":-1.25,"v":-1.75,"c":0.3},{"k":"q","d":12,"u":-0.75,"v":-1.75,"c":0.32},{"k":"q","d":12,"u":-0.25,"v":-1.75,"c":0.32},{"k":"q","d":12,"u":0.25,"v":-1.75,"c":0.36},{"k":"q","d":12,"u":0.75,"v":-1.75,"c":0.38},{"k":"q","d":12,"u":1.25,"v":-1.75,"c":0.36},{"k":"q","d":12,"u":1.75,"v":-1.75,"c":0.3},{"k":"q","d":12,"u":2.25,"v":-1.75,"c":0.22},
{"k":"q","d":12,"u":-3.75,"v":-1.25,"c":0.22},{"k":"q","d":12,"u":-3.25,"v":-1.25,"c":0.26},{"k":"q","d":12,"u":-2.75,"v":-1.25,"c":0.26},{"k":"q","d":12,"u":-2.25,"v":-1.25,"c":0.26},{"k":"q","d":12,"u":-1.75,"v":-1.25,"c":0.26},{"k":"q","d":12,"u":-1.25,"v":-1.25,"c":0.22},{"k":"q","d":12,"u":-0.75,"v":-1.25,"c":0.24},{"k":"q","d":12,"u":-0.25,"v":-1.25,"c":0.28},{"k":"q","d":12,"u":0.25,"v":-1.25,"c":0.34},{"k":"q","d":12,"u":0.75,"v":-1.25,"c":0.38},{"k":"q","d":12,"u":1.25,"v":-1.25,"c":0.38},{"k":"q","d":12,"u":1.75,"v":-1.25,"c":0.36},{"k":"q","d":12,"u":2.25,"v":-1.25,"c":0.3},{"k":"q","d":12,"u":2.75,"v":-1.25,"c":0.2},
{"k":"q","d":12,"u":-3.75,"v":-0.75,"c":0.2},{"k":"q","d":12,"u":-3.25,"v":-0.75,"c":0.24},{"k":"q","d":12,"u":-2.75,"v":-0.75,"c":0.26},{"k":"q","d":12,"u":-2.25,"v":-0.75,"c":0.26},{"k":"q","d":12,"u":-1.75,"v":-0.75,"c":0.22},{"k":"q","d":12,"u":-1.25,"v":-0.75,"c":0.2},{"k":"q","d":12,"u":-0.75,"v":-0.75,"c":0.22},{"k":"q","d":12,"u":-0.25,"v":-0.75,"c":0.25},{"k":"q","d":12,"u":0.25,"v":-0.75,"c":0.3},{"k":"q","d":12,"u":0.75,"v":-0.75,"c":0.36},{"k":"q","d":12,"u":1.25,"v":-0.75,"c":0.38},{"k":"q","d":12,"u":1.75,"v":-0.75,"c":0.38},{"k":"q","d":12,"u":2.25,"v":-0.75,"c":0.34},{"k":"q","d":12,"u":2.75,"v":-0.75,"c":0.28},{"k":"q","d":12,"u":3.25,"v":-0.75,"c":0.2},
{"k":"q","d":12,"u":-3.75,"v":-0.25,"c":0.2},{"k":"q","d":12,"u":-3.25,"v":-0.25,"c":0.26},{"k":"q","d":12,"u":-2.75,"v":-0.25,"c":0.28},{"k":"q","d":12,"u":-2.25,"v":-0.25,"c":0.28},{"k":"q","d":12,"u":-1.75,"v":-0.25,"c":0.24},{"k":"q","d":12,"u":-1.25,"v":-0.25,"c":0.2},{"k":"q","d":12,"u":-0.75,"v":-0.25,"c":0.2},{"k":"q","d":12,"u":-0.25,"v":-0.25,"c":0.22},{"k":"q","d":12,"u":0.25,"v":-0.25,"c":0.26},{"k":"q","d":12,"u":0.75,"v":-0.25,"c":0.28},{"k":"q","d":12,"u":1.25,"v":-0.25,"c":0.3},{"k":"q","d":12,"u":1.75,"v":-0.25,"c":0.3},{"k":"q","d":12,"u":2.25,"v":-0.25,"c":0.28},{"k":"q","d":12,"u":2.75,"v":-0.25,"c":0.24},{"k":"q","d":12,"u":3.25,"v":-0.25,"c":0.2},
{"k":"q","d":12,"u":-3.75,"v":0.25,"c":0.2},{"k":"q","d":12,"u":-3.25,"v":0.25,"c":0.26},{"k":"q","d":12,"u":-2.75,"v":0.25,"c":0.3},{"k":"q","d":12,"u":-2.25,"v":0.25,"c":0.3},{"k":"q","d":12,"u":-1.75,"v":0.25,"c":0.26},{"k":"q","d":12,"u":-1.25,"v":0.25,"c":0.22},{"k":"q","d":12,"u":-0.75,"v":0.25,"c":0.2},{"k":"q","d":12,"u":-0.25,"v":0.25,"c":0.2},{"k":"q","d":12,"u":0.25,"v":0.25,"c":0.2},{"k":"q","d":12,"u":0.75,"v":0.25,"c":0.22},{"k":"q","d":12,"u":1.25,"v":0.25,"c":0.24},{"k":"q","d":12,"u":1.75,"v":0.25,"c":0.24},{"k":"q","d":12,"u":2.25,"v":0.25,"c":0.24},{"k":"q","d":12,"u":2.75,"v":0.25,"c":0.22},
{"k":"q","d":12,"u":-3.75,"v":0.75,"c":0.22},{"k":"q","d":12,"u":-3.25,"v":0.75,"c":0.28},{"k":"q","d":12,"u":-2.75,"v":0.75,"c":0.3},{"k":"q","d":12,"u":-2.25,"v":0.75,"c":0.32},{"k":"q","d":12,"u":-1.75,"v":0.75,"c":0.28},{"k":"q","d":12,"u":-1.25,"v":0.75,"c":0.24},{"k":"q","d":12,"u":-0.75,"v":0.75,"c":0.2},{"k":"q","d":12,"u":0.75,"v":0.75,"c":0.2},{"k":"q","d":12,"u":1.25,"v":0.75,"c":0.22},{"k":"q","d":12,"u":1.75,"v":0.75,"c":0.22},{"k":"q","d":12,"u":2.25,"v":0.75,"c":0.2},
{"k":"q","d":12,"u":-3.75,"v":1.25,"c":0.22},{"k":"q","d":12,"u":-3.25,"v":1.25,"c":0.28},{"k":"q","d":12,"u":-2.75,"v":1.25,"c":0.32},{"k":"q","d":12,"u":-2.25,"v":1.25,"c":0.34},{"k":"q","d":12,"u":-1.75,"v":1.25,"c":0.32},{"k":"q","d":12,"u":-1.25,"v":1.25,"c":0.28},{"k":"q","d":12,"u":-0.75,"v":1.25,"c":0.24},{"k":"q","d":12,"u":-0.25,"v":1.25,"c":0.2},{"k":"q","d":12,"u":0.25,"v":1.25,"c":0.2},{"k":"q","d":12,"u":0.75,"v":1.25,"c":0.22},{"k":"q","d":12,"u":1.25,"v":1.25,"c":0.22},{"k":"q","d":12,"u":1.75,"v":1.25,"c":0.22},
{"k":"q","d":12,"u":-3.75,"v":1.75,"c":0.2},{"k":"q","d":12,"u":-3.25,"v":1.75,"c":0.26},{"k":"q","d":12,"u":-2.75,"v":1.75,"c":0.32},{"k":"q","d":12,"u":-2.25,"v":1.75,"c":0.34},{"k":"q","d":12,"u":-1.75,"v":1.75,"c":0.32},{"k":"q","d":12,"u":-1.25,"v":1.75,"c":0.3},{"k":"q","d":12,"u":-0.75,"v":1.75,"c":0.26},{"k":"q","d":12,"u":-0.25,"v":1.75,"c":0.24},{"k":"q","d":12,"u":0.25,"v":1.75,"c":0.24},{"k":"q","d":12,"u":0.75,"v":1.75,"c":0.26},{"k":"q","d":12,"u":1.25,"v":1.75,"c":0.26},{"k":"q","d":12,"u":1.75,"v":1.75,"c":0.24},{"k":"q","d":12,"u":2.25,"v":1.75,"c":0.2},
{"k":"q","d":12,"u":-3.75,"v":2.25,"c":0.18},{"k":"q","d":12,"u":-3.25,"v":2.25,"c":0.24},{"k":"q","d":12,"u":-2.75,"v":2.25,"c":0.3},{"k":"q","d":12,"u":-2.25,"v":2.25,"c":0.33},{"k":"q","d":12,"u":-1.75,"v":2.25,"c":0.33},{"k":"q","d":12,"u":-1.25,"v":2.25,"c":0.3},{"k":"q","d":12,"u":-0.75,"v":2.25,"c":0.28},{"k":"q","d":12,"u":-0.25,"v":2.25,"c":0.26},{"k":"q","d":12,"u":0.25,"v":2.25,"c":0.26},{"k":"q","d":12,"u":0.75,"v":2.25,"c":0.28},{"k":"q","d":12,"u":1.25,"v":2.25,"c":0.26},{"k":"q","d":12,"u":1.75,"v":2.25,"c":0.24},{"k":"q","d":12,"u":2.25,"v":2.25,"c":0.2},
{"k":"q","d":12,"u":-3.25,"v":2.75,"c":0.2},{"k":"q","d":12,"u":-2.75,"v":2.75,"c":0.26},{"k":"q","d":12,"u":-2.25,"v":2.75,"c":0.32},{"k":"q","d":12,"u":-1.75,"v":2.75,"c":0.33},{"k":"q","d":12,"u":-1.25,"v":2.75,"c":0.3},{"k":"q","d":12,"u":-0.75,"v":2.75,"c":0.28},{"k":"q","d":12,"u":-0.25,"v":2.75,"c":0.26},{"k":"q","d":12,"u":0.25,"v":2.75,"c":0.26},{"k":"q","d":12,"u":0.75,"v":2.75,"c":0.26},{"k":"q","d":12,"u":1.25,"v":2.75,"c":0.24},{"k":"q","d":12,"u":1.75,"v":2.75,"c":0.2},
{"k":"q","d":12,"u":-2.75,"v":3.25,"c":0.22},{"k":"q","d":12,"u":-2.25,"v":3.25,"c":0.28},{"k":"q","d":12,"u":-1.75,"v":3.25,"c":0.3},{"k":"q","d":12,"u":-1.25,"v":3.25,"c":0.3},{"k":"q","d":12,"u":-0.75,"v":3.25,"c":0.26},{"k":"q","d":12,"u":-0.25,"v":3.25,"c":0.24},{"k":"q","d":12,"u":0.25,"v":3.25,"c":0.24},{"k":"q","d":12,"u":0.75,"v":3.25,"c":0.22},{"k":"q","d":12,"u":1.25,"v":3.25,"c":0.2},
{"k":"q","d":12,"u":-2.25,"v":3.75,"c":0.22},{"k":"q","d":12,"u":-1.75,"v":3.75,"c":0.26},{"k":"q","d":12,"u":-1.25,"v":3.75,"c":0.26},{"k":"q","d":12,"u":-0.75,"v":3.75,"c":0.24},{"k":"q","d":12,"u":-0.25,"v":3.75,"c":0.2},{"k":"q","d":12,"u":0.25,"v":3.75,"c":0.2},
{"k":"q","d":21,"u":-3.75,"v":-2.25,"c":0.22},{"k":"q","d":21,"u":-3.25,"v":-2.25,"c":0.28},{"k":"q","d":21,"u":-2.75,"v":-2.25,"c":0.24},{"k":"q","d":21,"u":-3.25,"v":-2.75,"c":0.24},{"k":"q","d":21,"u":-2.25,"v":-1.75,"c":0.2},{"k":"q","d":21,"u":-1.75,"v":-1.75,"c":0.24},{"k":"q","d":21,"u":-1.25,"v":-1.75,"c":0.24},
{"k":"q","d":23,"u":2.75,"v":2.25,"c":0.24},{"k":"q","d":23,"u":3.25,"v":2.25,"c":0.26},{"k":"q","d":23,"u":3.25,"v":2.75,"c":0.26},{"k":"q","d":23,"u":3.75,"v":2.75,"c":0.24},{"k":"q","d":23,"u":2.75,"v":2.75,"c":0.22},
{"k":"q","d":23,"u":-3.44,"v":2.35,"c":0,"l":1.13},{"k":"q","d":23,"u":-2.31,"v":2.35,"c":0,"l":1.13},{"k":"q","d":23,"u":-1.19,"v":2.35,"c":0,"l":1.13},{"k":"q","d":23,"u":-3.44,"v":3.45,"c":0,"l":1.13},{"k":"q","d":23,"u":-2.31,"v":3.45,"c":0,"l":1.13},{"k":"q","d":23,"u":-1.19,"v":3.45,"c":0,"l":1.13},
{"k":"o","n":0,"u":-1.89,"v":0.01},{"k":"o","n":1,"u":-1.35,"v":0.52},{"k":"o","n":2,"u":-0.46,"v":0.9},{"k":"o","n":3,"u":0.49,"v":0.91},{"k":"o","n":4,"u":1.23,"v":0.51},{"k":"o","n":5,"u":1.34,"v":-0.15},{"k":"o","n":6,"u":1.0,"v":-0.91},{"k":"o","n":7,"u":0.22,"v":-1.43},{"k":"o","n":8,"u":-0.77,"v":-1.09},{"k":"o","n":9,"u":-1.77,"v":-0.64},{"k":"o","n":10,"u":-1.89,"v":0.01},
{"k":"z","u":2.5,"v":-0.1},{"k":"z","u":2.9,"v":0},{"k":"z","u":3.3,"v":0.1},{"k":"z","u":-3,"v":-0.1},{"k":"z","u":-2.7,"v":0},{"k":"z","u":-2.3,"v":0},
{"k":"T","p":"a","d":23,"u":-3.03,"v":-7.6,"t":"-4"},{"k":"T","p":"a","d":23,"u":1.09,"v":-7.57,"t":"0"},{"k":"T","p":"a","d":22.9,"u":4.4,"v":-7.6,"t":"4"},{"k":"T","p":"a","d":22.9,"u":7.44,"v":-5.18,"t":"-4"},{"k":"T","p":"a","d":23,"u":7.3,"v":-1.28,"t":"0"},{"k":"T","p":"a","d":23,"u":6.39,"v":2.7,"t":"4"},
{"k":"T","p":"b","d":23,"u":-4.34,"v":-7.31,"t":"-4"},{"k":"T","p":"b","d":23,"u":0.9,"v":-7.87,"t":"0"},{"k":"T","p":"b","d":22.9,"u":4.91,"v":-8.24,"t":"4"},{"k":"T","p":"b","d":23,"u":7.48,"v":-5.3,"t":"-4"},{"k":"T","p":"b","d":23,"u":7.18,"v":-0.5,"t":"0"},{"k":"T","p":"b","d":23,"u":6.52,"v":3.71,"t":"4"},
{"k":"L","p":"a","d":-2.26,"u":3.92,"v":3.12,"t":"(a)"},{"k":"L","p":"b","d":-2.25,"u":3.14,"v":2.5,"t":"(b)"}
]},
"transform":[
{"calculate":"test(/[rxoz]/,datum.k)?[0,3,6,9,12,15,18,21,23]:datum.k=='g'?[3,6,9,15,18,21,23]:[datum.d]","as":"D"},
{"flatten":["D"]},
{"calculate":"datum.p||(test(/[crxghb]/,datum.k)?'a':'b')","as":"P"},
{"calculate":"(datum.P=='a'?8.714:29.857)+datum.u+0.8036*datum.v","as":"X"},
{"calculate":"0.99465*((datum.P=='a'?datum.D:datum.D*0.9905-0.032)+0.1699*datum.u-0.2134*datum.v)","as":"Y"},
{"calculate":"datum.P=='a'?datum.c:datum.c+1.1","as":"C"},
{"calculate":"datum.r?1290*datum.r*datum.r:(datum.l?196*datum.l*datum.l:56)","as":"S"}
],
"encoding":{
"x":{"field":"X","type":"quantitative","axis":null,"scale":{"domain":[0,40],"nice":false,"zero":false}},
"y":{"field":"Y","type":"quantitative","title":"Depth (mm)","scale":{"domain":[-2.814,25.58],"reverse":true,"nice":false,"zero":false},"axis":{"values":[0,3,6,9,12,15,18,21,23],"ticks":false,"domain":false,"grid":false,"labelFontSize":24,"labelColor":"#111","labelPadding":3,"format":"d","titleFontSize":27.5,"titleFontWeight":"normal","titleColor":"#111","titlePadding":10,"titleY":472}},
"color":{"field":"C","type":"quantitative","legend":null,"scale":{"domain":[0,0.05,0.1,0.15,0.2,0.25,0.28,0.3,0.35,0.4,0.45,0.5,0.55,0.6,0.63,0.67,0.72,0.78,0.82,0.9,0.93,1,1.1,1.2,1.3,1.4,1.48,1.55,1.6,1.7,1.8,1.85,1.9,2,2.1],"range":["#0000c8","#0505ff","#1e30fa","#2a55f0","#3a78e8","#50a4f0","#58c8fa","#60f8f8","#60ffe0","#60f0a0","#70f070","#94f040","#b8fa10","#e4ff00","#ffff00","#ffc000","#ff8000","#ff4000","#ff0000","#f00000","#c00000","#600000","#0b0c10","#14162a","#1f2147","#2c2f6e","#40448f","#4f5f96","#557a9a","#6d9c9e","#8abfae","#a4e0c0","#b8e8cf","#e0f4ea","#ffffff"]}}
},
"layer":[
{"transform":[{"filter":"datum.k=='w'"}],"mark":{"type":"line","strokeWidth":1,"clip":false},"encoding":{"color":{"value":"#e7e7e7"},"detail":{"field":"i"}}},
{"transform":[{"filter":"datum.k=='a'"}],"mark":{"type":"line","strokeWidth":1.5},"encoding":{"color":{"value":"#666666"},"detail":{"field":"i"}}},
{"transform":[{"filter":"datum.k=='t'"}],"mark":{"type":"line","strokeWidth":1.2},"encoding":{"color":{"value":"#808080"},"detail":{"field":"i"}}},
{"transform":[{"filter":"datum.k=='b'||datum.k=='g'"}],"mark":{"type":"point","filled":true,"opacity":1,"strokeWidth":0,"shape":"M-1.8036,0.098L-0.1964,-0.866L1.8036,-0.098L0.1964,0.866Z"},"encoding":{"size":{"field":"S","type":"quantitative","scale":null}}},
{"transform":[{"filter":"datum.k=='r'"}],"mark":{"type":"point","filled":true,"opacity":1,"strokeWidth":0,"shape":"M-1,0A1,0.48,0,1,1,1,0A1,0.48,0,1,1,-1,0Z"},"encoding":{"size":{"field":"S","type":"quantitative","scale":null}}},
{"transform":[{"filter":"datum.k=='c'"}],"mark":{"type":"point","filled":true,"opacity":1,"strokeWidth":0,"shape":"M-1.8036,0.098L-0.1964,-0.866L1.8036,-0.098L0.1964,0.866Z"},"encoding":{"size":{"field":"S","type":"quantitative","scale":null}}},
{"transform":[{"filter":"datum.k=='h'"}],"mark":{"type":"point","filled":true,"opacity":1,"strokeWidth":0,"shape":"M-1,0A1,0.48,0,1,1,1,0A1,0.48,0,1,1,-1,0Z"},"encoding":{"size":{"field":"S","type":"quantitative","scale":null}}},
{"transform":[{"filter":"datum.k=='x'&&datum.D!=23"}],"mark":{"type":"point","filled":true,"opacity":1,"strokeWidth":0,"shape":"M-1,0A1,0.5,0,1,1,1,0A1,0.5,0,1,1,-1,0Z"},"encoding":{"color":{"value":"#ffffff"},"size":{"field":"S","type":"quantitative","scale":null}}},
{"transform":[{"filter":"datum.k=='x'&&datum.D==23"}],"mark":{"type":"point","filled":true,"opacity":1,"stroke":"#111111","strokeWidth":1,"shape":"M-1,0A1,0.5,0,1,1,1,0A1,0.5,0,1,1,-1,0Z"},"encoding":{"color":{"value":"#ffffff"},"size":{"field":"S","type":"quantitative","scale":null}}},
{"transform":[{"filter":"datum.k=='B'"}],"mark":{"type":"point","filled":true,"opacity":1,"strokeWidth":0,"shape":"M-1.8036,0.098L-0.1964,-0.866L1.8036,-0.098L0.1964,0.866Z"},"encoding":{"color":{"value":"#23262b"},"size":{"field":"S","type":"quantitative","scale":null}}},
{"transform":[{"filter":"datum.k=='q'"}],"mark":{"type":"point","filled":true,"opacity":0.85,"strokeWidth":0,"shape":"M-1.8036,0.098L-0.1964,-0.866L1.8036,-0.098L0.1964,0.866Z"},"encoding":{"size":{"field":"S","type":"quantitative","scale":null}}},
{"transform":[{"filter":"datum.k=='o'"}],"mark":{"type":"line","strokeWidth":1.1,"strokeDash":[5,2,1,2]},"encoding":{"color":{"value":"#f4f4f4"},"detail":{"field":"D"},"order":{"field":"n"}}},
{"transform":[{"filter":"datum.k=='z'"}],"mark":{"type":"point","filled":true,"opacity":0.85},"encoding":{"color":{"value":"#e8e8e8"},"size":{"value":2}}},
{"transform":[{"filter":"datum.k=='T'"}],"mark":{"type":"text","fontSize":24,"baseline":"middle","align":"center"},"encoding":{"color":{"value":"#111111"},"text":{"field":"t"}}},
{"transform":[{"filter":"datum.k=='L'"}],"mark":{"type":"text","fontSize":30,"font":"Liberation Sans","baseline":"middle","align":"center"},"encoding":{"color":{"value":"#111111"},"text":{"field":"t"}}}
]},
{"resolve":{"scale":{"color":"independent"}},"vconcat":[
{"width":29,"height":42,"data":{"values":[{"c":0}]},"mark":{"type":"rect","opacity":0},"encoding":{}},
{"resolve":{"scale":{"color":"independent"}},"vconcat":[
{"width":29,"height":398,"data":{"name":"bar"},"transform":[{"calculate":"datum.c+0.025","as":"c2"}],"view":{"stroke":"#444444","strokeWidth":1},"mark":{"type":"rect"},
"encoding":{"y":{"field":"c","type":"quantitative","title":"Optical contrast (a.u.)","scale":{"domain":[0,1],"nice":false},"axis":{"orient":"right","values":[0,0.2,0.4,0.6,0.8,1],"format":".1f","tickSize":-7,"tickColor":"#333333","domain":true,"domainColor":"#333333","grid":false,"labelFontSize":25,"labelColor":"#111","labelPadding":16,"titleFontSize":25,"titleFontWeight":"normal","titleColor":"#111","titleAngle":270,"titlePadding":56}},"y2":{"field":"c2"},
"color":{"field":"c","type":"quantitative","legend":null,"scale":{"domain":[0,0.1,0.2,0.3,0.38,0.45,0.5,0.6,0.7,0.75,0.8,0.9,1],"range":["#0b0c10","#14162a","#1f2147","#2c2f6e","#40448f","#4f5f96","#557a9a","#6d9c9e","#8abfae","#a4e0c0","#b8e8cf","#e0f4ea","#ffffff"]}}}},
{"width":29,"height":398,"data":{"name":"bar"},"transform":[{"calculate":"datum.c+0.025","as":"c2"}],"view":{"stroke":"#444444","strokeWidth":1},"mark":{"type":"rect"},
"encoding":{"y":{"field":"c","type":"quantitative","title":"Recovered optical contrast (a.u.)","scale":{"domain":[0,1],"nice":false},"axis":{"orient":"right","values":[0,0.2,0.4,0.6,0.8,1],"format":".1f","tickSize":-7,"tickColor":"#333333","domain":true,"domainColor":"#333333","grid":false,"labelFontSize":25,"labelColor":"#111","labelPadding":16,"titleFontSize":25,"titleFontWeight":"normal","titleColor":"#111","titleAngle":270,"titlePadding":56,"titleY":203}},"y2":{"field":"c2"},
"color":{"field":"c","type":"quantitative","legend":null,"scale":{"domain":[0,0.05,0.1,0.15,0.2,0.25,0.28,0.3,0.35,0.4,0.45,0.5,0.55,0.6,0.63,0.67,0.72,0.78,0.82,0.9,0.93,1],"range":["#0000c8","#0505ff","#1e30fa","#2a55f0","#3a78e8","#50a4f0","#58c8fa","#60f8f8","#60ffe0","#60f0a0","#70f070","#94f040","#b8fa10","#e4ff00","#ffff00","#ffc000","#ff8000","#ff4000","#ff0000","#f00000","#c00000","#600000"]}}}}
],"spacing":45,"bounds":"flush"}
],"spacing":0,"bounds":"flush"}
]}
